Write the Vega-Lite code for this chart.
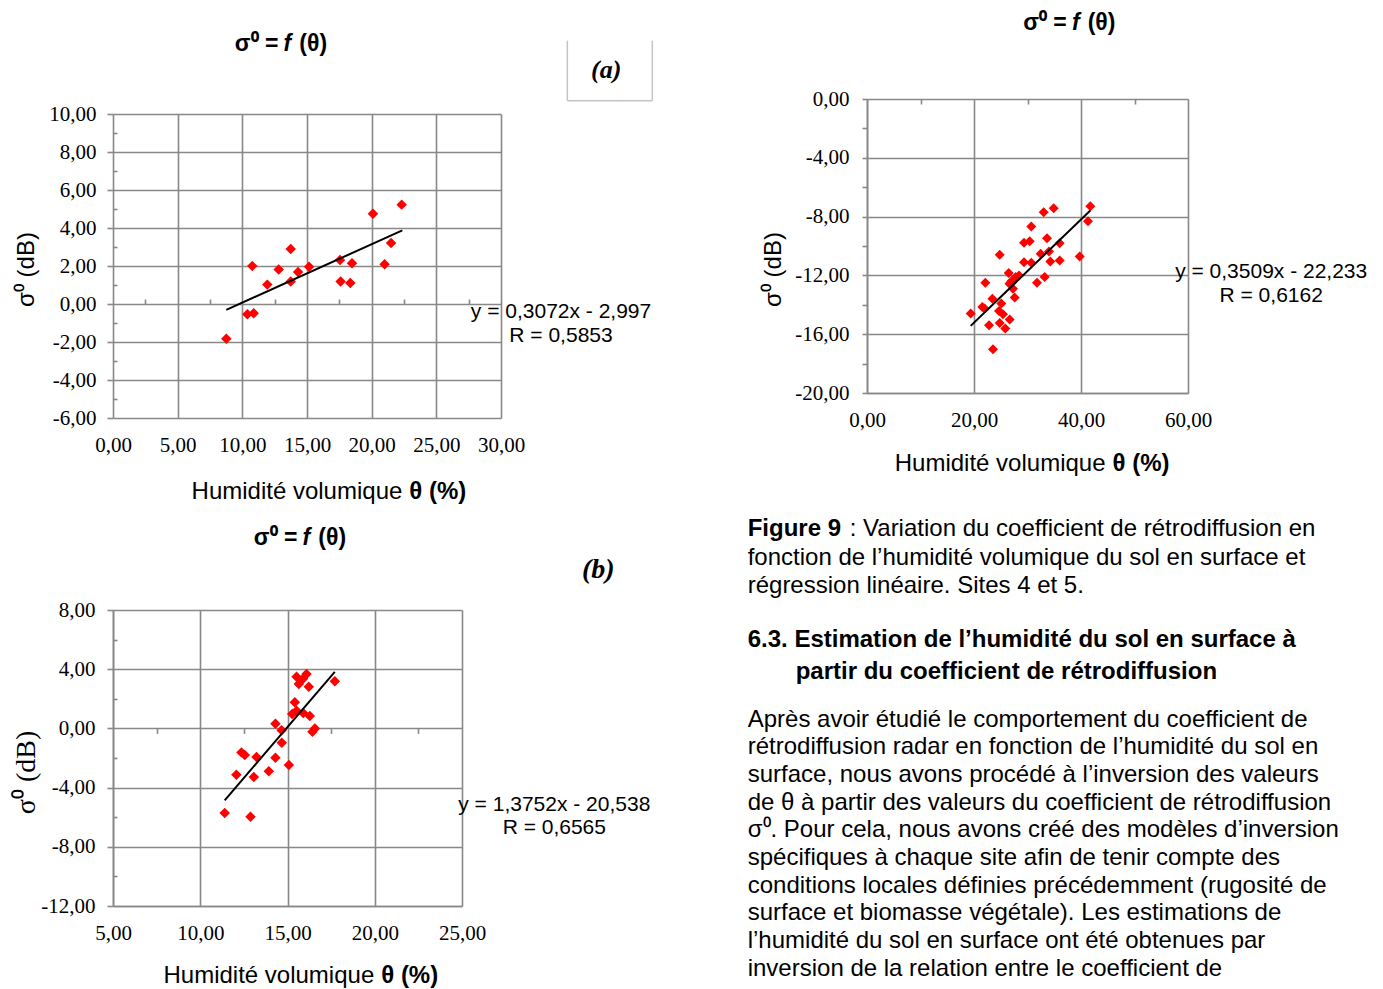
{
  "$schema": "https://vega.github.io/schema/vega-lite/v6.json",
  "background": "white",
  "padding": {"left": 12, "top": 11, "right": 5, "bottom": 0},
  "config": {
    "view": {"stroke": null},
    "font": "Liberation Sans",
    "axis": {
      "labelFont": "Liberation Serif", "labelFontSize": 21, "labelColor": "#000000",
      "gridColor": "#888888", "gridWidth": 1.6,
      "domainColor": "#888888", "domainWidth": 1.6,
      "tickColor": "#888888", "tickWidth": 1.6,
      "labelFlush": false, "labelOverlap": false,
      "titleFont": "Liberation Sans", "titleFontSize": 24, "titleFontWeight": "normal", "titleColor": "#000000"
    }
  },
  "datasets": {
    "a": [
      {"x": 8.76, "y": -1.83}, {"x": 10.39, "y": -0.54}, {"x": 10.88, "y": -0.49}, {"x": 10.77, "y": 2.0},
      {"x": 11.93, "y": 1.02}, {"x": 12.81, "y": 1.81}, {"x": 13.74, "y": 2.89}, {"x": 13.74, "y": 1.19},
      {"x": 14.31, "y": 1.68}, {"x": 15.16, "y": 1.96}, {"x": 17.55, "y": 2.32}, {"x": 17.6, "y": 1.19},
      {"x": 18.48, "y": 2.14}, {"x": 18.35, "y": 1.1}, {"x": 20.1, "y": 4.75}, {"x": 21.0, "y": 2.09},
      {"x": 21.5, "y": 3.21}, {"x": 22.32, "y": 5.23}
    ],
    "a_fit": [{"x": 8.76, "y": -0.306}, {"x": 22.37, "y": 3.875}],
    "b": [
      {"x": 11.40, "y": -5.72}, {"x": 12.88, "y": -5.97}, {"x": 12.07, "y": -3.13}, {"x": 12.36, "y": -1.62},
      {"x": 12.55, "y": -1.80}, {"x": 13.22, "y": -1.93}, {"x": 13.07, "y": -3.28}, {"x": 13.93, "y": -2.90},
      {"x": 14.31, "y": -1.98}, {"x": 14.31, "y": 0.32}, {"x": 14.66, "y": -0.13}, {"x": 14.67, "y": -0.97},
      {"x": 15.08, "y": -2.48}, {"x": 15.27, "y": 0.97}, {"x": 15.42, "y": 1.76}, {"x": 15.52, "y": 1.20},
      {"x": 15.52, "y": 3.49}, {"x": 15.65, "y": 3.0}, {"x": 15.89, "y": 3.36}, {"x": 16.09, "y": 3.67},
      {"x": 15.90, "y": 1.04}, {"x": 16.22, "y": 2.82}, {"x": 16.28, "y": 0.84}, {"x": 16.43, "y": -0.22},
      {"x": 16.57, "y": 0.0}, {"x": 17.71, "y": 3.18}
    ],
    "b_fit": [{"x": 11.40, "y": -4.861}, {"x": 17.71, "y": 3.817}],
    "c": [
      {"x": 19.38, "y": -14.60}, {"x": 21.55, "y": -14.15}, {"x": 21.99, "y": -14.26}, {"x": 22.11, "y": -12.50},
      {"x": 22.80, "y": -15.39}, {"x": 23.55, "y": -17.02}, {"x": 23.43, "y": -13.58}, {"x": 24.80, "y": -15.23},
      {"x": 24.67, "y": -14.42}, {"x": 25.10, "y": -13.92}, {"x": 25.42, "y": -14.64}, {"x": 25.85, "y": -15.61},
      {"x": 26.67, "y": -15.0}, {"x": 24.80, "y": -10.60}, {"x": 26.49, "y": -11.84}, {"x": 26.97, "y": -12.39},
      {"x": 27.29, "y": -12.90}, {"x": 27.61, "y": -13.51}, {"x": 28.41, "y": -12.0}, {"x": 27.79, "y": -12.11},
      {"x": 26.62, "y": -12.56}, {"x": 29.35, "y": -11.10}, {"x": 30.71, "y": -11.14}, {"x": 29.35, "y": -9.78},
      {"x": 30.41, "y": -9.67}, {"x": 30.71, "y": -8.68}, {"x": 31.78, "y": -12.50}, {"x": 32.47, "y": -10.53},
      {"x": 33.21, "y": -12.11}, {"x": 33.64, "y": -9.47}, {"x": 34.02, "y": -10.37}, {"x": 34.26, "y": -11.05},
      {"x": 36.02, "y": -9.81}, {"x": 36.02, "y": -10.98}, {"x": 33.03, "y": -7.71}, {"x": 34.90, "y": -7.44},
      {"x": 39.76, "y": -10.71}, {"x": 41.31, "y": -8.32}, {"x": 41.74, "y": -7.30}
    ],
    "c_fit": [{"x": 19.38, "y": -15.433}, {"x": 41.74, "y": -7.586}]
  },
  "spacing": 93,
  "hconcat": [
    {
      "spacing": 23,
      "vconcat": [
        {
          "width": 388, "height": 319,
          "resolve": {"axis": {"x": "independent", "y": "independent"}},
          "layer": [
            {"data": {"name": "a"},
             "mark": {"type": "point", "shape": "diamond", "filled": true, "color": "#ff0000", "size": 110, "opacity": 1},
             "encoding": {
               "x": {"field": "x", "type": "quantitative", "scale": {"domain": [0, 30], "nice": false, "zero": false},
                     "axis": {"orient": "bottom", "values": [0, 5, 10, 15, 20, 25, 30], "labelExpr": "replace(format(datum.value, '.2f'), '.', ',')", "ticks": false, "grid": false, "domain": false, "title": null, "labelPadding": 16}},
               "y": {"field": "y", "type": "quantitative", "scale": {"domain": [-6, 10], "nice": false, "zero": false, "range": [319, 15]},
                     "axis": {"orient": "left", "values": [-6, -4, -2, 0, 2, 4, 6, 8, 10], "labelExpr": "replace(replace(format(datum.value, '.2f'), '.', ','), '−', '-')", "tickSize": 6, "labelPadding": 11, "grid": true, "domain": false, "title": "σ⁰ (dB)", "titlePadding": 10, "titleY": 170}}
             }},
            {"data": {"name": "a_fit"},
             "mark": {"type": "line", "color": "#000000", "strokeWidth": 2},
             "encoding": {
               "x": {"field": "x", "type": "quantitative", "axis": {"orient": "top", "offset": -205, "values": [2.5, 7.5, 12.5, 17.5, 22.5, 27.5], "labels": false, "domain": false, "grid": false, "tickSize": 5, "title": null}},
               "y": {"field": "y", "type": "quantitative", "axis": {"orient": "right", "offset": -388, "values": [-5, -3, -1, 1, 3, 5, 7, 9], "labels": false, "domain": false, "grid": false, "tickSize": 4, "title": null}}
             }},
            {"data": {"values": [{}]},
             "mark": {"type": "text", "text": "σ⁰ =", "font": "Liberation Sans", "fontSize": 23, "fontWeight": "bold", "align": "right", "baseline": "middle", "dx": -9},
             "encoding": {"x": {"datum": 13.48, "type": "quantitative", "axis": null}, "y": {"datum": 13.70, "type": "quantitative", "axis": null}}},
            {"data": {"values": [{}]},
             "mark": {"type": "text", "text": "f", "font": "Liberation Sans", "fontSize": 23, "fontWeight": "bold", "fontStyle": "italic", "align": "center", "baseline": "middle"},
             "encoding": {"x": {"datum": 13.48, "type": "quantitative", "axis": null}, "y": {"datum": 13.70, "type": "quantitative", "axis": null}}},
            {"data": {"values": [{}]},
             "mark": {"type": "text", "text": "(θ)", "font": "Liberation Sans", "fontSize": 23, "fontWeight": "bold", "align": "left", "baseline": "middle", "dx": 12},
             "encoding": {"x": {"datum": 13.48, "type": "quantitative", "axis": null}, "y": {"datum": 13.70, "type": "quantitative", "axis": null}}},
            {"data": {"values": [{}]},
             "mark": {"type": "text", "text": "(a)", "font": "Liberation Serif", "fontSize": 26, "fontWeight": "bold", "fontStyle": "italic", "align": "center", "baseline": "middle"},
             "encoding": {"x": {"datum": 38.14, "type": "quantitative", "axis": {"orient": "top", "offset": -15, "values": [0, 5, 10, 15, 20, 25, 30], "labels": false, "domain": false, "grid": false, "ticks": true, "tickSize": -304, "tickColor": "#888888", "tickWidth": 1.6, "title": null}}, "y": {"datum": 12.3, "type": "quantitative", "axis": null}}},
            {"data": {"values": [{}]},
             "mark": {"type": "rule", "color": "#c4c4c4", "strokeWidth": 1.5},
             "encoding": {"x": {"datum": 35.13, "type": "quantitative", "axis": null}, "y": {"datum": 10.70, "type": "quantitative", "axis": null}, "y2": {"datum": 13.86}}},
            {"data": {"values": [{}]},
             "mark": {"type": "rule", "color": "#c4c4c4", "strokeWidth": 1.5},
             "encoding": {"x": {"datum": 41.70, "type": "quantitative", "axis": null}, "y": {"datum": 10.70, "type": "quantitative", "axis": null}, "y2": {"datum": 13.86}}},
            {"data": {"values": [{}]},
             "mark": {"type": "rule", "color": "#c4c4c4", "strokeWidth": 1.5},
             "encoding": {"x": {"datum": 35.13, "type": "quantitative", "axis": null}, "x2": {"datum": 41.70}, "y": {"datum": 10.70, "type": "quantitative", "axis": null}}},
            {"data": {"values": [{}]},
             "mark": {"type": "text", "text": ["y = 0,3072x - 2,997", "R = 0,5853"], "font": "Liberation Sans", "fontSize": 21, "lineHeight": 24, "align": "center", "baseline": "top"},
             "encoding": {"x": {"datum": 34.64, "type": "quantitative", "axis": null}, "y": {"datum": 0.18, "type": "quantitative", "axis": null}}},
            {"data": {"values": [{}]},
             "mark": {"type": "text", "text": "Humidité volumique", "font": "Liberation Sans", "fontSize": 24, "align": "right", "baseline": "middle", "dx": -4},
             "encoding": {"x": {"datum": 22.68, "type": "quantitative", "axis": null}, "y": {"datum": -9.88, "type": "quantitative", "axis": null}}},
            {"data": {"values": [{}]},
             "mark": {"type": "text", "text": "θ (%)", "font": "Liberation Sans", "fontSize": 24, "fontWeight": "bold", "align": "left", "baseline": "middle", "dx": 3},
             "encoding": {"x": {"datum": 22.68, "type": "quantitative", "axis": null}, "y": {"datum": -9.88, "type": "quantitative", "axis": null}}}
          ]
        },
        {
          "width": 349, "height": 296,
          "resolve": {"axis": {"x": "independent", "y": "independent"}},
          "layer": [
            {"data": {"name": "b"},
             "mark": {"type": "point", "shape": "diamond", "filled": true, "color": "#ff0000", "size": 110, "opacity": 1},
             "encoding": {
               "x": {"field": "x", "type": "quantitative", "scale": {"domain": [5, 25], "nice": false, "zero": false},
                     "axis": {"orient": "bottom", "values": [5, 10, 15, 20, 25], "labelExpr": "replace(format(datum.value, '.2f'), '.', ',')", "ticks": false, "grid": true, "title": null, "labelPadding": 16}},
               "y": {"field": "y", "type": "quantitative", "scale": {"domain": [-12, 8], "nice": false, "zero": false},
                     "axis": {"orient": "left", "values": [-12, -8, -4, 0, 4, 8], "labelExpr": "replace(replace(format(datum.value, '.2f'), '.', ','), '−', '-')", "tickSize": 6, "labelPadding": 12, "grid": true, "title": "σ⁰ (dB)", "titleFont": "Liberation Serif", "titleFontSize": 28, "titlePadding": 0, "titleY": 162}}
             }},
            {"data": {"name": "b_fit"},
             "mark": {"type": "line", "color": "#000000", "strokeWidth": 2},
             "encoding": {
               "x": {"field": "x", "type": "quantitative", "axis": {"orient": "bottom", "offset": -177.6, "values": [7.5, 12.5, 17.5, 22.5], "labels": false, "domain": false, "grid": false, "tickSize": 5, "title": null}},
               "y": {"field": "y", "type": "quantitative", "axis": {"orient": "right", "offset": -349, "values": [-10, -6, -2, 2, 6], "labels": false, "domain": false, "grid": false, "tickSize": 4, "title": null}}
             }},
            {"data": {"values": [{}]},
             "mark": {"type": "text", "text": "σ⁰ =", "font": "Liberation Sans", "fontSize": 23, "fontWeight": "bold", "align": "right", "baseline": "middle", "dx": -9},
             "encoding": {"x": {"datum": 16.08, "type": "quantitative", "axis": null}, "y": {"datum": 12.86, "type": "quantitative", "axis": null}}},
            {"data": {"values": [{}]},
             "mark": {"type": "text", "text": "f", "font": "Liberation Sans", "fontSize": 23, "fontWeight": "bold", "fontStyle": "italic", "align": "center", "baseline": "middle"},
             "encoding": {"x": {"datum": 16.08, "type": "quantitative", "axis": null}, "y": {"datum": 12.86, "type": "quantitative", "axis": null}}},
            {"data": {"values": [{}]},
             "mark": {"type": "text", "text": "(θ)", "font": "Liberation Sans", "fontSize": 23, "fontWeight": "bold", "align": "left", "baseline": "middle", "dx": 12},
             "encoding": {"x": {"datum": 16.08, "type": "quantitative", "axis": null}, "y": {"datum": 12.86, "type": "quantitative", "axis": null}}},
            {"data": {"values": [{}]},
             "mark": {"type": "text", "text": "(b)", "font": "Liberation Serif", "fontSize": 28, "fontWeight": "bold", "fontStyle": "italic", "align": "center", "baseline": "middle"},
             "encoding": {"x": {"datum": 32.81, "type": "quantitative", "axis": null}, "y": {"datum": 10.70, "type": "quantitative", "axis": null}}},
            {"data": {"values": [{}]},
             "mark": {"type": "text", "text": ["y = 1,3752x - 20,538", "R = 0,6565"], "font": "Liberation Sans", "fontSize": 21, "lineHeight": 23, "align": "center", "baseline": "top"},
             "encoding": {"x": {"datum": 30.29, "type": "quantitative", "axis": null}, "y": {"datum": -4.45, "type": "quantitative", "axis": null}}},
            {"data": {"values": [{}]},
             "mark": {"type": "text", "text": "Humidité volumique", "font": "Liberation Sans", "fontSize": 24, "align": "right", "baseline": "middle", "dx": -4},
             "encoding": {"x": {"datum": 20.20, "type": "quantitative", "axis": null}, "y": {"datum": -16.73, "type": "quantitative", "axis": null}}},
            {"data": {"values": [{}]},
             "mark": {"type": "text", "text": "θ (%)", "font": "Liberation Sans", "fontSize": 24, "fontWeight": "bold", "align": "left", "baseline": "middle", "dx": 3},
             "encoding": {"x": {"datum": 20.20, "type": "quantitative", "axis": null}, "y": {"datum": -16.73, "type": "quantitative", "axis": null}}}
          ]
        }
      ]
    },
    {
      "width": 321, "height": 294,
      "resolve": {"axis": {"x": "independent", "y": "independent"}},
      "layer": [
        {"data": {"name": "c"},
         "mark": {"type": "point", "shape": "diamond", "filled": true, "color": "#ff0000", "size": 100, "opacity": 1},
         "encoding": {
           "x": {"field": "x", "type": "quantitative", "scale": {"domain": [0, 60], "nice": false, "zero": false},
                 "axis": {"orient": "bottom", "values": [0, 20, 40, 60], "labelExpr": "replace(format(datum.value, '.2f'), '.', ',')", "ticks": false, "grid": true, "title": null, "labelPadding": 16}},
           "y": {"field": "y", "type": "quantitative", "scale": {"domain": [-20, 0], "nice": false, "zero": false},
                 "axis": {"orient": "left", "values": [-20, -18, -16, -14, -12, -10, -8, -6, -4, -2, 0],
                          "labelExpr": "datum.value % 4 === 0 ? replace(replace(format(datum.value, '.2f'), '.', ','), '−', '-') : ''",
                          "gridOpacity": {"condition": {"test": "datum.value % 4 !== 0", "value": 0}, "value": 1},
                          "tickSize": 5, "labelPadding": 13, "grid": true, "title": "σ⁰ (dB)", "titlePadding": 9, "titleY": 170}}
         }},
        {"data": {"name": "c_fit"},
         "mark": {"type": "line", "color": "#000000", "strokeWidth": 2},
         "encoding": {
           "x": {"field": "x", "type": "quantitative", "axis": {"orient": "bottom", "offset": -294, "values": [10, 30, 50], "labels": false, "domain": false, "grid": false, "tickSize": 5, "title": null}},
           "y": {"field": "y", "type": "quantitative", "axis": null}
         }},
        {"data": {"values": [{}]},
         "mark": {"type": "text", "text": "σ⁰ =", "font": "Liberation Sans", "fontSize": 23, "fontWeight": "bold", "align": "right", "baseline": "middle", "dx": -9},
         "encoding": {"x": {"datum": 39.01, "type": "quantitative", "axis": null}, "y": {"datum": 5.19, "type": "quantitative", "axis": null}}},
        {"data": {"values": [{}]},
         "mark": {"type": "text", "text": "f", "font": "Liberation Sans", "fontSize": 23, "fontWeight": "bold", "fontStyle": "italic", "align": "center", "baseline": "middle"},
         "encoding": {"x": {"datum": 39.01, "type": "quantitative", "axis": null}, "y": {"datum": 5.19, "type": "quantitative", "axis": null}}},
        {"data": {"values": [{}]},
         "mark": {"type": "text", "text": "(θ)", "font": "Liberation Sans", "fontSize": 23, "fontWeight": "bold", "align": "left", "baseline": "middle", "dx": 12},
         "encoding": {"x": {"datum": 39.01, "type": "quantitative", "axis": null}, "y": {"datum": 5.19, "type": "quantitative", "axis": null}}},
        {"data": {"values": [{}]},
         "mark": {"type": "text", "text": ["y = 0,3509x - 22,233", "R = 0,6162"], "font": "Liberation Sans", "fontSize": 21, "lineHeight": 24, "align": "center", "baseline": "top"},
         "encoding": {"x": {"datum": 75.55, "type": "quantitative", "axis": null}, "y": {"datum": -11.02, "type": "quantitative", "axis": null}}},
        {"data": {"values": [{}]},
         "mark": {"type": "text", "text": "Humidité volumique", "font": "Liberation Sans", "fontSize": 24, "align": "right", "baseline": "middle", "dx": -4},
         "encoding": {"x": {"datum": 45.33, "type": "quantitative", "axis": null}, "y": {"datum": -24.81, "type": "quantitative", "axis": null}}},
        {"data": {"values": [{}]},
         "mark": {"type": "text", "text": "θ (%)", "font": "Liberation Sans", "fontSize": 24, "fontWeight": "bold", "align": "left", "baseline": "middle", "dx": 3},
         "encoding": {"x": {"datum": 45.33, "type": "quantitative", "axis": null}, "y": {"datum": -24.81, "type": "quantitative", "axis": null}}},
        {"data": {"values": [{}]},
         "mark": {"type": "text", "text": "Figure 9", "font": "Liberation Sans", "fontSize": 24, "fontWeight": "bold", "align": "left", "baseline": "alphabetic"},
         "encoding": {"x": {"datum": -22.30, "type": "quantitative", "axis": null}, "y": {"datum": -29.71, "type": "quantitative", "axis": null}}},
        {"data": {"values": [{}]},
         "mark": {"type": "text", "text": ": Variation du coefficient de rétrodiffusion en", "font": "Liberation Sans", "fontSize": 24, "align": "left", "baseline": "alphabetic"},
         "encoding": {"x": {"datum": -3.23, "type": "quantitative", "axis": null}, "y": {"datum": -29.71, "type": "quantitative", "axis": null}}},
        {"data": {"values": [{}]},
         "mark": {"type": "text", "text": ["fonction de l’humidité volumique du sol en surface et", "régression linéaire. Sites 4 et 5."], "font": "Liberation Sans", "fontSize": 24, "lineHeight": 28, "align": "left", "baseline": "alphabetic"},
         "encoding": {"x": {"datum": -22.30, "type": "quantitative", "axis": null}, "y": {"datum": -31.68, "type": "quantitative", "axis": null}}},
        {"data": {"values": [{}]},
         "mark": {"type": "text", "text": "6.3. Estimation de l’humidité du sol en surface à", "font": "Liberation Sans", "fontSize": 24, "fontWeight": "bold", "align": "left", "baseline": "alphabetic"},
         "encoding": {"x": {"datum": -22.30, "type": "quantitative", "axis": null}, "y": {"datum": -37.26, "type": "quantitative", "axis": null}}},
        {"data": {"values": [{}]},
         "mark": {"type": "text", "text": "partir du coefficient de rétrodiffusion", "font": "Liberation Sans", "fontSize": 24, "fontWeight": "bold", "align": "left", "baseline": "alphabetic"},
         "encoding": {"x": {"datum": -13.33, "type": "quantitative", "axis": null}, "y": {"datum": -39.44, "type": "quantitative", "axis": null}}},
        {"data": {"values": [{}]},
         "mark": {"type": "text", "text": [
           "Après avoir étudié le comportement du coefficient de",
           "rétrodiffusion radar en fonction de l’humidité du sol en",
           "surface, nous avons procédé à l’inversion des valeurs",
           "de θ à partir des valeurs du coefficient de rétrodiffusion",
           "σ⁰. Pour cela, nous avons créé des modèles d’inversion",
           "spécifiques à chaque site afin de tenir compte des",
           "conditions locales définies précédemment (rugosité de",
           "surface et biomasse végétale). Les estimations de",
           "l’humidité du sol en surface ont été obtenues par",
           "inversion de la relation entre le coefficient de"],
           "font": "Liberation Sans", "fontSize": 24, "lineHeight": 27.66, "align": "left", "baseline": "alphabetic"},
         "encoding": {"x": {"datum": -22.30, "type": "quantitative", "axis": null}, "y": {"datum": -42.70, "type": "quantitative", "axis": null}}}
      ]
    }
  ]
}
